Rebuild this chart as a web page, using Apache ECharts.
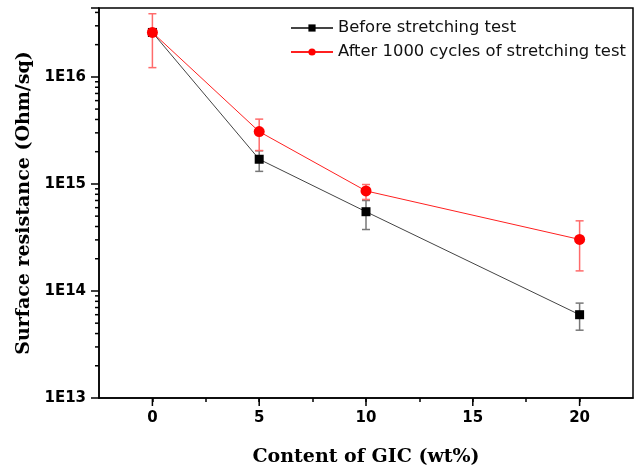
<!DOCTYPE html>
<html>
<head>
<meta charset="utf-8">
<script src="https://cdn.jsdelivr.net/npm/echarts@6/dist/echarts.min.js"></script>
<style>
  html, body { margin: 0; padding: 0; background: #fff; }
  #main { width: 636px; height: 472px; }
</style>
</head>
<body>
<div id="main"></div>
<script>
// GIC content (wt%)
const gicContent = [0, 5, 10, 20];

// surface resistance, Ohm/sq
const beforeValues = [2.6e16, 1.7e15, 5.5e14, 6.0e13];
const beforeLow = [null, 1.31e15, 3.75e14, 4.3e13];
const beforeHigh = [null, 2.04e15, 7.0e14, 7.7e13];

const afterValues = [2.6e16, 3.08e15, 8.6e14, 3.03e14];
const afterLow = [1.22e16, 2.05e15, 7.16e14, 1.54e14];
const afterHigh = [3.89e16, 4.03e15, 9.87e14, 4.52e14];

// axis ticks
const xMajorTicks = [0, 5, 10, 15, 20];
const yDecades = [13, 14, 15, 16];
const yMinorSteps = [2, 3, 4, 5, 6, 7, 8, 9];

const xMin = -2.5, xMax = 22.5;
const yMin = 1e13, yMax = 4.4e16;

let yMinorTicks = [];
yDecades.forEach(d => {
  yMinorSteps.forEach(s => {
    const v = s * Math.pow(10, d);
    if (v < yMax) yMinorTicks.push([xMin, v]);
  });
});

function errData(low, high) {
  let out = [];
  for (let i = 0; i < gicContent.length; i++) {
    if (low[i] == null) continue;
    out.push([gicContent[i], low[i], high[i]]);
  }
  return out;
}

function errorBar(color) {
  return function (params, api) {
    const top = api.coord([api.value(0), api.value(2)]);
    const bot = api.coord([api.value(0), api.value(1)]);
    const cap = 4;
    const style = { stroke: color, lineWidth: 1.5 };
    return {
      type: 'group',
      children: [
        { type: 'line', shape: { x1: top[0], y1: top[1], x2: bot[0], y2: bot[1] }, style: style },
        { type: 'line', shape: { x1: top[0] - cap, y1: top[1], x2: top[0] + cap, y2: top[1] }, style: style },
        { type: 'line', shape: { x1: bot[0] - cap, y1: bot[1], x2: bot[0] + cap, y2: bot[1] }, style: style }
      ]
    };
  };
}

const chart = echarts.init(document.getElementById('main'));

chart.setOption({
  animation: false,
  grid: {
    left: 99,
    right: 3,
    top: 8,
    bottom: 70,
    show: true,
    borderColor: '#000',
    borderWidth: 1.5
  },
  legend: {
    orient: 'vertical',
    left: 285,
    top: 13,
    itemWidth: 42,
    itemHeight: 9,
    itemGap: 4,
    textStyle: {
      fontFamily: 'DejaVu Sans',
      fontSize: 16.4,
      color: '#111',
      lineHeight: 20
    },
    data: ['Before stretching test', 'After 1000 cycles of stretching test']
  },
  xAxis: {
    type: 'value',
    min: xMin,
    max: xMax,
    interval: 2.5,
    name: 'Content of GIC (wt%)',
    nameLocation: 'middle',
    nameGap: 50,
    nameTextStyle: {
      fontFamily: 'DejaVu Serif',
      fontWeight: 'bold',
      fontSize: 19,
      color: '#000'
    },
    splitLine: { show: false },
    axisLine: { onZero: false, lineStyle: { color: '#000', width: 1.5 } },
    axisTick: { length: 4, lineStyle: { color: '#000', width: 1.5 } },
    axisLabel: {
      margin: 13,
      fontFamily: 'DejaVu Sans',
      fontWeight: 'bold',
      fontSize: 15,
      color: '#000',
      showMinLabel: false,
      showMaxLabel: false,
      formatter: v => (xMajorTicks.indexOf(v) >= 0 ? String(v) : '')
    }
  },
  yAxis: {
    type: 'log',
    logBase: 10,
    min: yMin,
    max: yMax,
    name: 'Surface resistance (Ohm/sq)',
    nameLocation: 'middle',
    nameGap: 58,
    nameTextStyle: {
      fontFamily: 'DejaVu Serif',
      fontWeight: 'bold',
      fontSize: 19,
      color: '#000'
    },
    splitLine: { show: false },
    axisLine: { onZero: false, lineStyle: { color: '#000', width: 1.5 } },
    axisTick: { length: 8, lineStyle: { color: '#000', width: 1.5 } },
    axisLabel: {
      margin: 13,
      fontFamily: 'DejaVu Sans',
      fontWeight: 'bold',
      fontSize: 15,
      color: '#000',
      formatter: v => {
        const e = Math.log10(v);
        return Math.abs(e - Math.round(e)) < 1e-6 ? '1E' + Math.round(e) : '';
      }
    }
  },
  series: [
    {
      // minor ticks on the log axis and longer ticks at labelled x values
      type: 'custom',
      silent: true,
      z: 5,
      data: yMinorTicks,
      renderItem: function (params, api) {
        const p = api.coord([api.value(0), api.value(1)]);
        const children = [
          { type: 'line', shape: { x1: p[0] - 4, y1: p[1], x2: p[0], y2: p[1] }, style: { stroke: '#000', lineWidth: 1.5 } }
        ];
        if (params.dataIndex === 0) {
          xMajorTicks.forEach(t => {
            const q = api.coord([t, yMin]);
            children.push({ type: 'line', shape: { x1: q[0], y1: q[1], x2: q[0], y2: q[1] + 8 }, style: { stroke: '#000', lineWidth: 1.5 } });
          });
        }
        return { type: 'group', children: children };
      }
    },
    {
      type: 'custom',
      silent: true,
      z: 1,
      data: errData(beforeLow, beforeHigh),
      renderItem: errorBar('#777')
    },
    {
      type: 'custom',
      silent: true,
      z: 1,
      data: errData(afterLow, afterHigh),
      renderItem: errorBar('#ff6b6b')
    },
    {
      name: 'Before stretching test',
      type: 'line',
      z: 3,
      data: gicContent.map((x, i) => [x, beforeValues[i]]),
      symbol: 'rect',
      symbolSize: 9,
      lineStyle: { color: '#444', width: 1 },
      itemStyle: { color: '#000' }
    },
    {
      name: 'After 1000 cycles of stretching test',
      type: 'line',
      z: 4,
      data: gicContent.map((x, i) => [x, afterValues[i]]),
      symbol: 'circle',
      symbolSize: 11,
      lineStyle: { color: '#ff2020', width: 1 },
      itemStyle: { color: '#ff0000' }
    }
  ]
});
</script>
</body>
</html>
